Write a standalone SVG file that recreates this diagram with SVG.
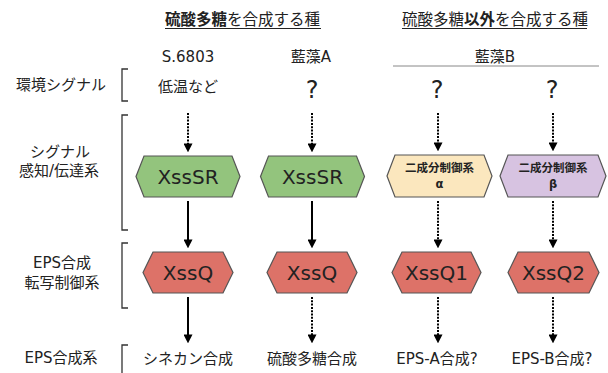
<svg xmlns="http://www.w3.org/2000/svg" width="608" height="373" viewBox="0 0 608 373">
<defs>
<style>
text{font-family:"DejaVu Sans","Noto Sans CJK JP",sans-serif;fill:#222;}
.t{font-size:15px;}
.ttl{font-size:15.5px;}
.b{font-weight:bold;}
.hx{font-size:20px;text-anchor:middle;}
.sm{font-size:11.5px;font-weight:bold;text-anchor:middle;}
.q{font-size:24px;text-anchor:middle;}
.c{text-anchor:middle;}
.brk{fill:none;stroke:#333;stroke-width:1.3;}
.green{fill:#93c47d;stroke:#555;stroke-width:1.2;}
.red{fill:#dd7268;stroke:#555;stroke-width:1.2;}
.yel{fill:#fbe7be;stroke:#555;stroke-width:1.2;}
.pur{fill:#d7c3e1;stroke:#555;stroke-width:1.2;}
.solid{stroke:#000;stroke-width:2;fill:none;marker-end:url(#ah);}
.dot{stroke:#000;stroke-width:2;fill:none;stroke-dasharray:2 1.3;marker-end:url(#ah);}
</style>
<marker id="ah" viewBox="0 0 10 10" refX="4" refY="5" markerWidth="9" markerHeight="9" markerUnits="userSpaceOnUse" orient="auto">
<path d="M0,0 L10,5 L0,10 z" fill="#000"/>
</marker>
</defs>
<rect width="608" height="373" fill="#fff"/>

<g id="headers">
<text class="ttl" x="165" y="25"><tspan class="b">硫酸多糖</tspan>を合成する種</text>
<line x1="165" y1="28.5" x2="321" y2="28.5" stroke="#222" stroke-width="1"/>
<text class="ttl" x="402" y="25">硫酸多糖<tspan class="b">以外</tspan>を合成する種</text>
<line x1="402" y1="28.5" x2="587" y2="28.5" stroke="#222" stroke-width="1"/>
<text class="t c" x="188" y="62">S.6803</text>
<text class="t c" x="311" y="62">藍藻A</text>
<text class="t c" x="495" y="62">藍藻B</text>
<line x1="393" y1="66" x2="599" y2="66" stroke="#888" stroke-width="1"/>
</g>

<g id="row-labels">
<text class="t c" x="61" y="90">環境シグナル</text>
<path class="brk" d="M128,69 H122 V101 H128"/>
<text class="t c" x="60" y="157">シグナル</text>
<text class="t c" x="59" y="176">感知/伝達系</text>
<path class="brk" d="M128,115 H122 V230 H128"/>
<text class="t c" x="62" y="268">EPS合成</text>
<text class="t c" x="62" y="288">転写制御系</text>
<path class="brk" d="M128,243 H122 V308 H128"/>
<text class="t c" x="61" y="363">EPS合成系</text>
<path class="brk" d="M128,345 H122 V376 H128"/>
</g>

<g id="signals">
<text class="t c" x="188" y="92">低温など</text>
<text class="q" x="312" y="98">?</text>
<text class="q" x="437" y="98">?</text>
<text class="q" x="552" y="98">?</text>
</g>

<g id="connectors">
<line class="dot" x1="188" y1="113" x2="188" y2="147"/>
<line class="dot" x1="312" y1="113" x2="312" y2="147"/>
<line class="dot" x1="438" y1="113" x2="438" y2="146"/>
<line class="dot" x1="553" y1="113" x2="553" y2="146"/>
<line class="solid" x1="188" y1="201" x2="188" y2="243"/>
<line class="solid" x1="312" y1="201" x2="312" y2="243"/>
<line class="dot" x1="438" y1="201" x2="438" y2="243"/>
<line class="dot" x1="553" y1="201" x2="553" y2="243"/>
<line class="solid" x1="188" y1="297" x2="188" y2="338"/>
<line class="dot" x1="312" y1="297" x2="312" y2="338"/>
<line class="dot" x1="438" y1="297" x2="438" y2="338"/>
<line class="dot" x1="553" y1="297" x2="553" y2="338"/>
</g>

<g id="xsssr-1">
<polygon class="green" points="136,176.5 144,156 232,156 240,176.5 232,197 144,197"/>
<text class="hx" x="188" y="184">XssSR</text>
</g>
<g id="xsssr-2">
<polygon class="green" points="260.5,176.5 268.5,156 356.5,156 364.5,176.5 356.5,197 268.5,197"/>
<text class="hx" x="312.5" y="184">XssSR</text>
</g>
<g id="tcs-alpha">
<polygon class="yel" points="387,176 395,155 484,155 492,176 484,197 395,197"/>
<text class="sm" x="439.5" y="172">二成分制御系</text>
<text class="sm" x="439.5" y="188">α</text>
</g>
<g id="tcs-beta">
<polygon class="pur" points="500,176 508,155 598,155 606,176 598,197 508,197"/>
<text class="sm" x="553" y="172">二成分制御系</text>
<text class="sm" x="553" y="188">β</text>
</g>

<g id="xssq-1">
<polygon class="red" points="143,272.5 153,252 223,252 233,272.5 223,293 153,293"/>
<text class="hx" x="188" y="280">XssQ</text>
</g>
<g id="xssq-2">
<polygon class="red" points="267,272.5 277,252 347,252 357,272.5 347,293 277,293"/>
<text class="hx" x="312" y="280">XssQ</text>
</g>
<g id="xssq1">
<polygon class="red" points="392,272.5 402,252 471,252 481,272.5 471,293 402,293"/>
<text class="hx" x="436.5" y="280">XssQ1</text>
</g>
<g id="xssq2">
<polygon class="red" points="508,272.5 518,252 589,252 599,272.5 589,293 518,293"/>
<text class="hx" x="553.5" y="280">XssQ2</text>
</g>

<g id="outputs">
<text class="t c" x="188" y="364">シネカン合成</text>
<text class="t c" x="312" y="364">硫酸多糖合成</text>
<text class="t c" x="437" y="364">EPS-A合成?</text>
<text class="t c" x="552" y="364">EPS-B合成?</text>
</g>
</svg>
